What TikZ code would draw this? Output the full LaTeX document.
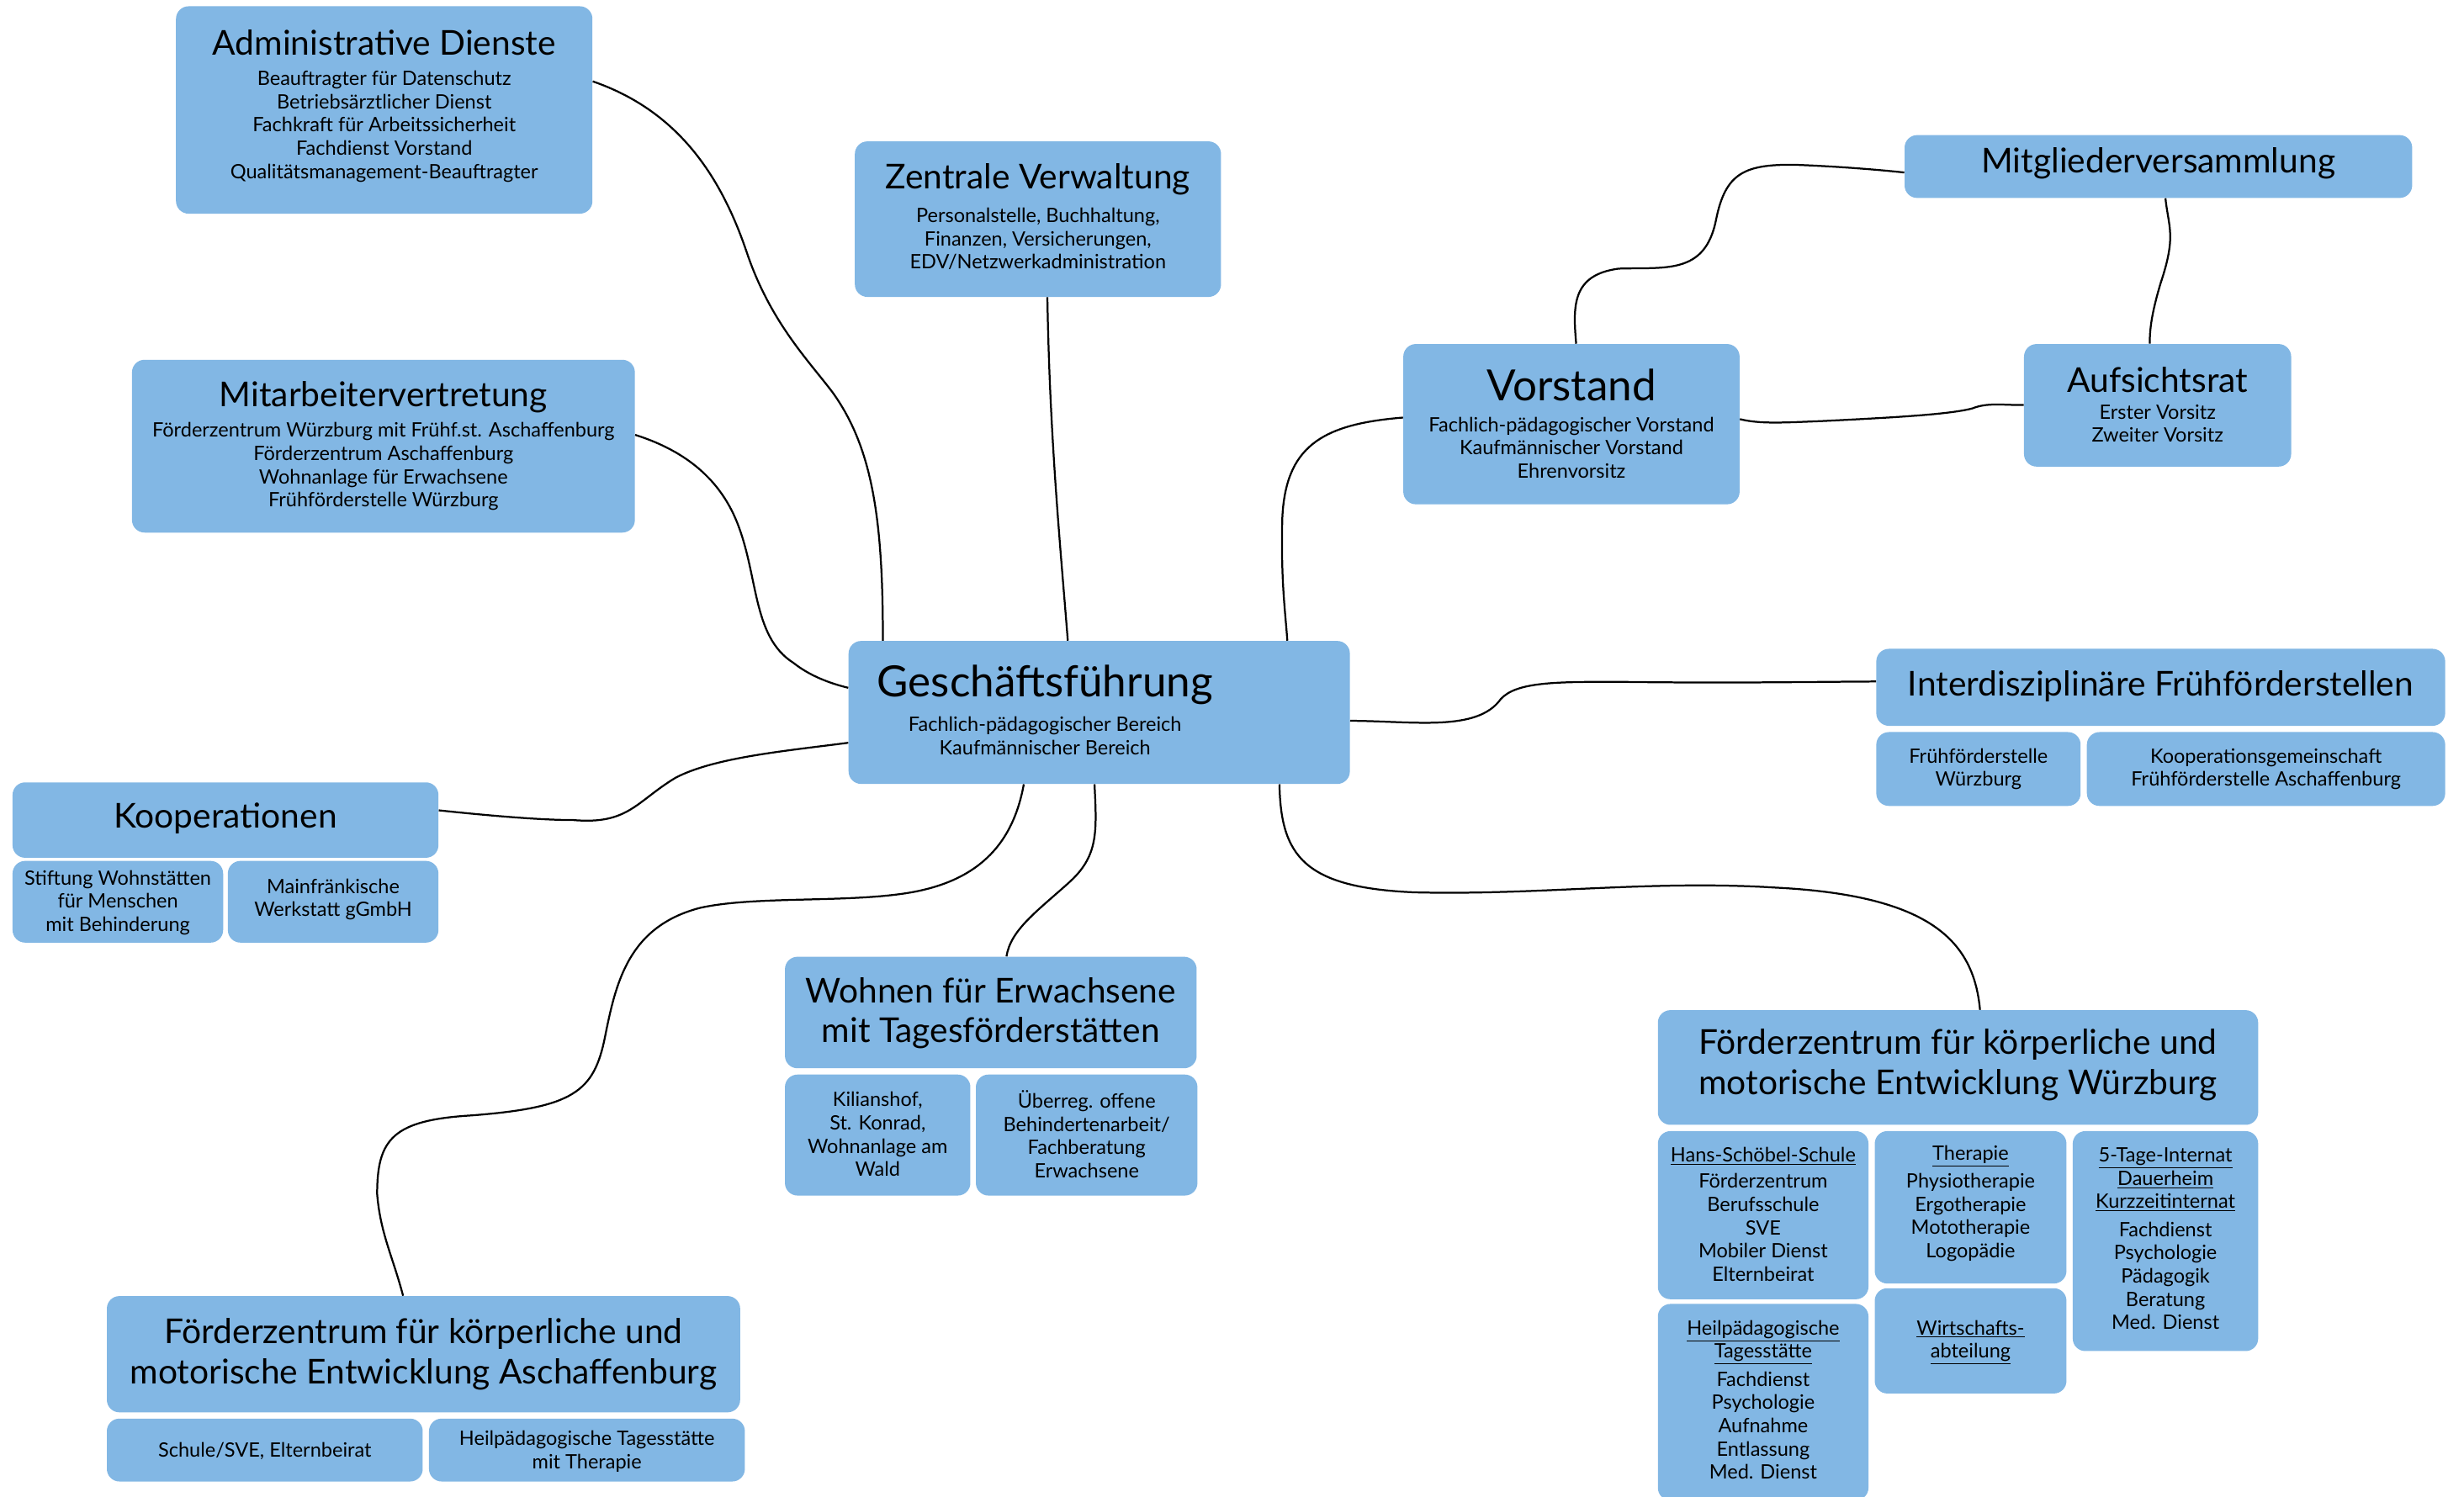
\documentclass[tikz,border=0pt]{standalone}
\usepackage{fontspec}
\setmainfont{Lato}
\usetikzlibrary{calc}
\definecolor{boxblue}{RGB}{130,183,228}
\begin{document}
\begin{tikzpicture}[x=1pt,y=-1pt,
  box/.style={fill=boxblue,rounded corners=8pt,inner sep=0pt,draw=none},
  tt/.style={inner sep=0pt,align=center,font=\fontsize{21.8}{25.5}\selectfont},
  bigt/.style={inner sep=0pt,align=center,font=\fontsize{27.4}{30}\selectfont},
  st/.style={inner sep=0pt,align=center,font=\fontsize{12.6}{14.8}\selectfont},
  conn/.style={draw=black,line width=1.2pt}]
\useasboundingbox (0,0) rectangle (1568,952.4);
\fill[white] (0,0) rectangle (1568,952.4);

% boxes
\node[box,minimum width=265pt,minimum height=132pt] (admin) at (244.5,70) {};
\node[box,minimum width=233pt,minimum height=99pt] (zv) at (660.5,139.5) {};
\node[box,minimum width=323pt,minimum height=40pt] (mgv) at (1373.5,106) {};
\node[box,minimum width=214pt,minimum height=102pt] (vor) at (1000,270) {};
\node[box,minimum width=170pt,minimum height=78pt] (auf) at (1373,258) {};
\node[box,minimum width=320pt,minimum height=110pt] (mit) at (244,284) {};
\node[box,minimum width=319pt,minimum height=91pt] (gf) at (699.5,453.5) {};
\node[box,minimum width=362pt,minimum height=49pt] (iff) at (1375,437.5) {};
\node[box,minimum width=130pt,minimum height=47pt] (ffw) at (1259,489.5) {};
\node[box,minimum width=228pt,minimum height=47pt] (kgf) at (1442,489.5) {};
\node[box,minimum width=271pt,minimum height=48pt] (koop) at (143.5,522) {};
\node[box,minimum width=134pt,minimum height=52pt] (stif) at (75,574) {};
\node[box,minimum width=134pt,minimum height=52pt] (mfw) at (212,574) {};
\node[box,minimum width=262pt,minimum height=71pt] (woh) at (630.5,644.5) {};
\node[box,minimum width=118pt,minimum height=77pt] (kil) at (558.5,722.5) {};
\node[box,minimum width=141pt,minimum height=77pt] (ueb) at (691.5,722.5) {};
\node[box,minimum width=382pt,minimum height=73pt] (fzw) at (1246,679.5) {};
\node[box,minimum width=134pt,minimum height=107pt] (hss) at (1122,773.5) {};
\node[box,minimum width=122pt,minimum height=97pt] (ther) at (1254,768.5) {};
\node[box,minimum width=118pt,minimum height=140pt] (tag) at (1378,790) {};
\node[box,minimum width=134pt,minimum height=125pt] (heil) at (1122,892.5) {};
\node[box,minimum width=122pt,minimum height=67pt] (wirt) at (1254,853.5) {};
\node[box,minimum width=403pt,minimum height=74pt] (fza) at (269.5,862) {};
\node[box,minimum width=201pt,minimum height=40pt] (schu) at (168.5,923) {};
\node[box,minimum width=201pt,minimum height=40pt] (htt) at (373.5,923) {};

% texts
\node[tt] (adminT) at (244.5,27) {Administrative Dienste};
\node[st] (adminL) at (244.5,80.5) {Beauftragter für Datenschutz\\Betriebsärztlicher Dienst\\Fachkraft für Arbeitssicherheit\\Fachdienst Vorstand\\Qualitätsmanagement-Beauftragter};
\node[tt] (zvT) at (660.5,114) {Zentrale Verwaltung};
\node[st] (zvL) at (660.5,152) {Personalstelle, Buchhaltung,\\Finanzen, Versicherungen,\\EDV/Netzwerkadministration};
\node[tt] (mgvT) at (1373.5,104) {Mitgliederversammlung};
\node[bigt] (vorT) at (1000,245) {Vorstand};
\node[st] (vorL) at (1000,285) {Fachlich-pädagogischer Vorstand\\Kaufmännischer Vorstand\\Ehrenvorsitz};
\node[tt] (aufT) at (1373,242) {Aufsichtsrat};
\node[st] (aufL) at (1373,269.5) {Erster Vorsitz\\Zweiter Vorsitz};
\node[tt] (mitT) at (244,253) {Mitarbeitervertretung};
\node[st] (mitL) at (244,297) {Förderzentrum Würzburg mit Frühf.st. Aschaffenburg\\Förderzentrum Aschaffenburg\\Wohnanlage für Erwachsene\\Frühförderstelle Würzburg};
\node[bigt] (gfT) at (665,436) {Geschäftsführung};
\node[st] (gfL) at (665,468.5) {Fachlich-pädagogischer Bereich\\Kaufmännischer Bereich};
\node[tt] (iffT) at (1375,437) {Interdisziplinäre Frühförderstellen};
\node[st] (ffwL) at (1259,489.5) {Frühförderstelle\\Würzburg};
\node[st] (kgfL) at (1442,489.5) {Kooperationsgemeinschaft\\Frühförderstelle Aschaffenburg};
\node[tt] (koopT) at (143.5,521) {Kooperationen};
\node[st] (stifL) at (75,574.5) {Stiftung Wohnstätten\\für Menschen\\mit Behinderung};
\node[st] (mfwL) at (212,572.5) {Mainfränkische\\Werkstatt gGmbH};
\node[tt] (wohT) at (630.5,645) {Wohnen für Erwachsene\\mit Tagesförderstätten};
\node[st] (kilL) at (558.5,722) {Kilianshof,\\St. Konrad,\\Wohnanlage am\\Wald};
\node[st] (uebL) at (691.5,722) {Überreg. offene\\Behindertenarbeit/\\Fachberatung\\Erwachsene};
\node[tt] (fzwT) at (1246,678) {Förderzentrum für körperliche und\\motorische Entwicklung Würzburg};
\node[st] (hssL) at (1122,773) {\underline{Hans-Schöbel-Schule}\\[2pt]Förderzentrum\\Berufsschule\\SVE\\Mobiler Dienst\\Elternbeirat};
\node[st] (therL) at (1254,766) {\underline{Therapie}\\[3pt]Physiotherapie\\Ergotherapie\\Mototherapie\\Logopädie};
\node[st] (tagL) at (1378,788.5) {\underline{5-Tage-Internat}\\\underline{Dauerheim}\\\underline{Kurzzeitinternat}\\[3pt]Fachdienst\\Psychologie\\Pädagogik\\Beratung\\Med. Dienst};
\node[st] (heilL) at (1122,891) {\underline{Heilpädagogische}\\\underline{Tagesstätte}\\[3pt]Fachdienst\\Psychologie\\Aufnahme\\Entlassung\\Med. Dienst};
\node[st] (wirtL) at (1254,854.5) {\underline{Wirtschafts-}\\\underline{abteilung}};
\node[tt] (fzaT) at (269.5,862) {Förderzentrum für körperliche und\\motorische Entwicklung Aschaffenburg};
\node[st] (schuL) at (168.5,923.5) {Schule/SVE, Elternbeirat};
\node[st] (httL) at (373.5,924) {Heilpädagogische Tagesstätte\\mit Therapie};

% connectors
\draw[conn] ($(admin.north east)+(0,48)$) .. controls (430,70) and (458,110) .. (475,160)
  .. controls (490,205) and (515,230) .. (530,250)
  .. controls (555,285) and (562,330) .. ($(gf.north west)+(22,0)$);
\draw[conn] ($(mit.north east)+(0,48)$) .. controls (430,285) and (455,300) .. (468,330)
  .. controls (483,365) and (478,405) .. (505,422)
  .. controls (515,430) and (528,435) .. ($(gf.north west)+(0,30)$);
\draw[conn] ($(zv.south)+(6,0)$) .. controls (668,280) and (675,350) .. ($(gf.north)+(-20,0)$);
\draw[conn] ($(vor.north west)+(0,47)$) .. controls (840,270) and (818,285) .. (816,330)
  .. controls (815,370) and (818,390) .. ($(gf.north east)+(-40,0)$);
\draw[conn] ($(gf.north west)+(0,65)$) .. controls (500,478) and (455,482) .. (430,495)
  .. controls (405,510) and (400,525) .. (365,522)
  .. controls (340,522) and (300,518) .. ($(koop.north east)+(0,18)$);
\draw[conn] ($(gf.north east)+(0,51)$) .. controls (900,459) and (940,466) .. (955,445)
  .. controls (965,434) and (990,434) .. (1030,434)
  .. controls (1100,435) and (1150,434) .. ($(iff.north west)+(0,21)$);
\draw[conn] ($(gf.south east)+(-45,0)$) .. controls (815,545) and (830,565) .. (900,568)
  .. controls (980,570) and (1050,560) .. (1130,565)
  .. controls (1230,570) and (1256,600) .. ($(fzw.north)+(14,0)$);
\draw[conn] ($(gf.south)+(-3,0)$) .. controls (698,530) and (699,545) .. (680,562)
  .. controls (660,580) and (643,592) .. ($(woh.north)+(10,0)$);
\draw[conn] ($(gf.south)+(-48,0)$) .. controls (645,535) and (625,560) .. (580,568)
  .. controls (540,575) and (480,570) .. (445,578)
  .. controls (400,590) and (392,625) .. (385,660)
  .. controls (378,695) and (365,705) .. (300,710)
  .. controls (250,713) and (240,725) .. (240,760)
  .. controls (242,785) and (250,800) .. ($(fza.north)+(-13,0)$);
\draw[conn] ($(vor.north east)+(0,48)$) .. controls (1120,270) and (1135,269) .. (1160,268)
  .. controls (1200,266) and (1240,264) .. (1255,260)
  .. controls (1265,256) and (1275,258) .. ($(auf.north west)+(0,39)$);
\draw[conn] ($(vor.north)+(3,0)$) .. controls (1001,195) and (1000,175) .. (1030,171)
  .. controls (1060,170) and (1085,175) .. (1092,140)
  .. controls (1098,110) and (1110,104) .. (1145,105)
  .. controls (1170,106) and (1195,108) .. ($(mgv.north west)+(0,24)$);
\draw[conn] ($(mgv.south)+(4.5,0)$) .. controls (1380,145) and (1385,150) .. (1375,180)
  .. controls (1369,200) and (1368,210) .. ($(auf.north)+(-5,0)$);
\end{tikzpicture}
\end{document}
